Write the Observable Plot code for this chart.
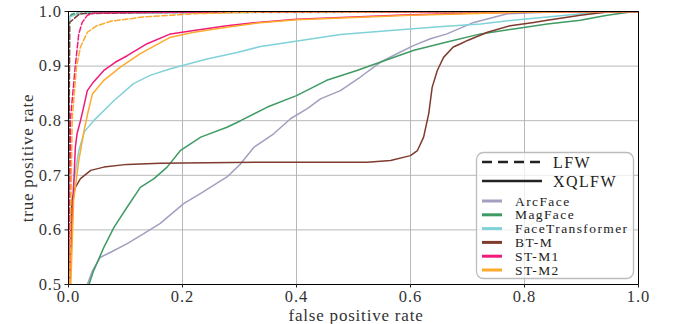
<!DOCTYPE html>
<html>
<head>
<meta charset="utf-8">
<script src="https://cdn.jsdelivr.net/npm/d3@7"></script>
<script src="https://cdn.jsdelivr.net/npm/@observablehq/plot@0.6"></script>
<style>
  body { margin: 0; background: #fff; }
  #wrap { position: relative; width: 675px; height: 324px; }
  #legend { position: absolute; left: 0; top: 0; pointer-events: none; }
  #wrap svg text { font-family: "Liberation Serif", "DejaVu Serif", serif !important; }
  #wrap svg:not(#legend) text { letter-spacing: 0.9px; }
  .lab { position: absolute; font-family: "Liberation Serif", "DejaVu Serif", serif; font-size: 17px; letter-spacing: 0.8px; color: #333; white-space: nowrap; line-height: 1; }
</style>
</head>
<body>
<div id="wrap"></div>
<script>
// ---- data (fpr, tpr) ----
const models = ["ArcFace", "MagFace", "FaceTransformer", "BT-M", "ST-M1", "ST-M2"];
const colors = ["#a29fbf", "#3f9a63", "#80d2d8", "#7e3b2e", "#f01a7a", "#fdaa2d"];
const datasets = ["LFW", "XQLFW"];
const axisLabels = ["false positive rate", "true positive rate"];
const xTicks = [0, 0.2, 0.4, 0.6, 0.8, 1.0];
const yTicks = [0.5, 0.6, 0.7, 0.8, 0.9, 1.0];

const arcfaceXQ = [[0.033,0.5],[0.042,0.525],[0.056,0.55],[0.074,0.559],[0.103,0.575],[0.132,0.593],[0.161,0.612],[0.202,0.648],[0.232,0.667],[0.278,0.697],[0.302,0.721],[0.325,0.751],[0.36,0.776],[0.39,0.804],[0.419,0.822],[0.442,0.84],[0.477,0.855],[0.512,0.88],[0.547,0.907],[0.577,0.923],[0.606,0.938],[0.635,0.95],[0.664,0.959],[0.711,0.98],[0.77,0.996],[0.85,0.999],[1,1]];
const magfaceXQ = [[0.036,0.5],[0.044,0.525],[0.062,0.568],[0.08,0.605],[0.103,0.642],[0.126,0.678],[0.15,0.694],[0.173,0.715],[0.196,0.745],[0.232,0.77],[0.278,0.788],[0.302,0.8],[0.349,0.825],[0.4,0.846],[0.453,0.874],[0.506,0.892],[0.565,0.914],[0.606,0.929],[0.664,0.944],[0.723,0.959],[0.781,0.968],[0.84,0.977],[0.898,0.984],[0.945,0.993],[0.986,0.999],[1,1]];
const facetransXQ = [[0.003,0.5],[0.006,0.62],[0.009,0.685],[0.018,0.745],[0.028,0.78],[0.046,0.802],[0.08,0.837],[0.114,0.868],[0.143,0.883],[0.179,0.895],[0.2,0.901],[0.243,0.913],[0.296,0.925],[0.337,0.936],[0.39,0.944],[0.477,0.958],[0.565,0.965],[0.65,0.972],[0.723,0.977],[0.78,0.984],[0.84,0.99],[0.9,0.996],[0.956,0.999],[1,1]];
const btmXQ = [[0.002,0.5],[0.004,0.6],[0.006,0.654],[0.012,0.678],[0.021,0.694],[0.039,0.709],[0.062,0.715],[0.103,0.72],[0.161,0.722],[0.337,0.724],[0.524,0.724],[0.565,0.727],[0.6,0.736],[0.612,0.745],[0.623,0.77],[0.632,0.813],[0.638,0.861],[0.647,0.892],[0.658,0.916],[0.675,0.935],[0.688,0.941],[0.7,0.947],[0.735,0.962],[0.775,0.974],[0.816,0.98],[0.84,0.984],[0.898,0.993],[0.945,0.999],[1,1]];
const stm1XQ = [[0.002,0.5],[0.0035,0.55],[0.008,0.654],[0.012,0.751],[0.015,0.776],[0.021,0.8],[0.026,0.822],[0.033,0.855],[0.044,0.871],[0.062,0.892],[0.082,0.907],[0.103,0.919],[0.138,0.941],[0.179,0.959],[0.22,0.965],[0.278,0.974],[0.331,0.98],[0.4,0.986],[0.5,0.99],[0.6,0.994],[0.7,0.997],[0.85,0.999],[1,1]];
const stm2XQ = [[0.004,0.5],[0.009,0.654],[0.018,0.727],[0.027,0.78],[0.033,0.81],[0.042,0.849],[0.062,0.874],[0.091,0.898],[0.126,0.923],[0.179,0.953],[0.22,0.962],[0.278,0.971],[0.331,0.979],[0.4,0.985],[0.5,0.989],[0.6,0.993],[0.7,0.996],[0.8,0.999],[1,1]];

const arcfaceLFW = [[0,0.5],[0.001,0.99],[0.01,0.997],[0.1,0.999],[1,1]];
const magfaceLFW = [[0,0.5],[0.001,0.985],[0.005,0.995],[0.05,0.998],[1,1]];
const facetransLFW = [[0,0.5],[0.002,0.99],[0.02,0.997],[1,1]];
const btmLFW = [[0,0.5],[0.002,0.98],[0.02,0.996],[0.2,0.999],[1,1]];
const stm1LFW = [[0.001,0.5],[0.0035,0.804],[0.012,0.901],[0.018,0.959],[0.024,0.98],[0.033,0.993],[0.044,0.997],[0.1,0.998],[0.5,0.999],[1,1]];
const stm2LFW = [[0.002,0.5],[0.0065,0.804],[0.014,0.898],[0.021,0.935],[0.033,0.962],[0.05,0.974],[0.074,0.982],[0.13,0.99],[0.22,0.996],[0.34,0.999],[1,1]];

const lfwCurves = [arcfaceLFW, magfaceLFW, facetransLFW, btmLFW, stm1LFW, stm2LFW];
const xqCurves = [arcfaceXQ, magfaceXQ, facetransXQ, btmXQ, stm1XQ, stm2XQ];

const toRows = (arr, model, ds) => arr.map(([fpr, tpr]) => ({fpr, tpr, model, ds}));

const marks = [
  Plot.gridX(xTicks, {stroke: "#b0b0b0", strokeOpacity: 1, strokeWidth: 0.9}),
  Plot.gridY(yTicks, {stroke: "#b0b0b0", strokeOpacity: 1, strokeWidth: 0.9}),
];
models.forEach((m, i) => {
  marks.push(Plot.line(toRows(xqCurves[i], m, "XQLFW"), {x: "fpr", y: "tpr", stroke: colors[i], strokeWidth: 1.5, clip: true}));
  marks.push(Plot.line(toRows(lfwCurves[i], m, "LFW"), {x: "fpr", y: "tpr", stroke: colors[i], strokeWidth: 1.5, strokeDasharray: "5.5,2.4", clip: true}));
});
marks.push(Plot.frame({stroke: "#000", strokeWidth: 1}));
marks.push(Plot.axisX(xTicks, {tickSize: 3.5, tickFormat: d3.format(".1f"), fontSize: 16.5, tickPadding: 2, label: null, fill: "#333"}));
marks.push(Plot.axisY(yTicks, {tickSize: 3.5, tickFormat: d3.format(".1f"), fontSize: 16.5, tickPadding: 3, label: null, fill: "#333"}));

const chart = Plot.plot({
  width: 675, height: 324,
  marginLeft: 68, marginRight: 37, marginTop: 11, marginBottom: 40,
  style: {fontFamily: "'Liberation Serif', 'DejaVu Serif', serif", fontSize: "16.5px", background: "#fff", color: "#222"},
  x: {domain: [0, 1]},
  y: {domain: [0.5, 1]},
  marks
});
document.getElementById("wrap").appendChild(chart);

// axis titles (HTML text)
const wrap = document.getElementById("wrap");
const xl = document.createElement("div");
xl.className = "lab"; xl.textContent = axisLabels[0];
xl.style.left = "356px"; xl.style.top = "307px"; xl.style.transform = "translateX(-50%)";
wrap.appendChild(xl);
const yl = document.createElement("div");
yl.className = "lab"; yl.textContent = axisLabels[1];
yl.style.left = "27px"; yl.style.top = "158px"; yl.style.transform = "translate(-50%,-50%) rotate(-90deg)";
wrap.appendChild(yl);

// ---- legend overlay ----
const ns = "http://www.w3.org/2000/svg";
const lg = document.createElementNS(ns, "svg");
lg.setAttribute("id", "legend");
lg.setAttribute("width", 675); lg.setAttribute("height", 324);
const mk = (tag, attrs, txt) => { const e = document.createElementNS(ns, tag); for (const k in attrs) e.setAttribute(k, attrs[k]); if (txt) e.textContent = txt; lg.appendChild(e); return e; };
mk("rect", {x: 476.5, y: 152.5, width: 157, height: 126, rx: 7, fill: "rgba(255,255,255,0.75)", stroke: "#bcbcbc", "stroke-width": 1.3});
const styleRows = [{label: datasets[0], dash: "10,6"}, {label: datasets[1], dash: null}];
styleRows.forEach((r, j) => {
  const y = 162 + j * 19;
  const a = {x1: 482, x2: 542, y1: y, y2: y, stroke: "#222", "stroke-width": 2.6};
  if (r.dash) a["stroke-dasharray"] = r.dash;
  mk("line", a);
  mk("text", {x: 553, y: y + 5.5, "font-size": 16, "letter-spacing": 1.4, fill: "#222"}, r.label);
});
models.forEach((m, i) => {
  const y = 201 + i * 13.8;
  mk("line", {x1: 482, x2: 502, y1: y, y2: y, stroke: colors[i], "stroke-width": 3});
  mk("text", {x: 515, y: y + 4.5, "font-size": 13.5, "letter-spacing": 1.4, fill: "#222"}, m);
});
wrap.appendChild(lg);
</script>
</body>
</html>
